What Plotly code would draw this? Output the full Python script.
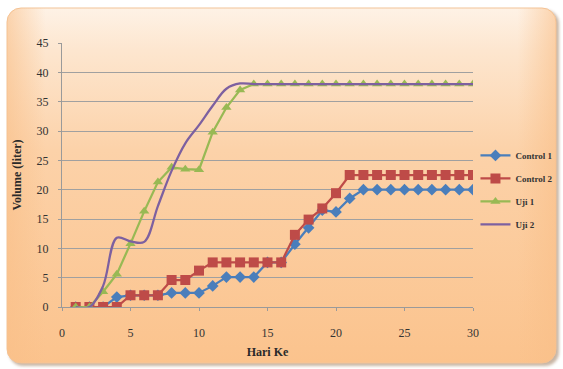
import base64
import plotly.graph_objects as go

# Daily cumulative volume (liter) per treatment
days = list(range(1, 31))
control_1 = [0, 0, 0, 1.7, 2, 2, 2, 2.4, 2.4, 2.4, 3.6, 5.1, 5.1, 5.1, 7.6,
             7.6, 10.7, 13.5, 16.5, 16.2, 18.5, 20, 20, 20, 20, 20, 20, 20, 20, 20]
control_2 = [0, 0, 0, 0, 2, 2, 2, 4.6, 4.6, 6.2, 7.6, 7.6, 7.6, 7.6, 7.6,
             7.6, 12.3, 14.9, 16.8, 19.4, 22.5, 22.5, 22.5, 22.5, 22.5, 22.5, 22.5, 22.5, 22.5, 22.5]
uji_1 = [0, 0, 2.6, 5.6, 10.8, 16.3, 21.3, 23.8, 23.5, 23.4, 29.8, 34, 37, 38, 38,
         38, 38, 38, 38, 38, 38, 38, 38, 38, 38, 38, 38, 38, 38, 38]
uji_2 = [0, 0, 3.6, 11.8, 11.2, 11.1, 17.2, 23.2, 27.9, 31, 34.3, 37.2, 38.1, 38, 38,
         38, 38, 38, 38, 38, 38, 38, 38, 38, 38, 38, 38, 38, 38, 38]

x_ticks = [0, 5, 10, 15, 20, 25, 30]
y_ticks = [0, 5, 10, 15, 20, 25, 30, 35, 40, 45]

W, H = 563, 369
ML, MR, MT, MB = 62, 90, 43, 62
SERIF = "Liberation Serif"

# Rounded chart frame with a warm gradient fill
svg = f'''<svg xmlns="http://www.w3.org/2000/svg" width="{W}" height="{H}" viewBox="0 0 {W} {H}">
<defs>
<linearGradient id="v" x1="0" y1="0" x2="0" y2="1">
<stop offset="0" stop-color="#fef2e6"/>
<stop offset="0.12" stop-color="#fde6cf"/>
<stop offset="0.40" stop-color="#fcd2a9"/>
<stop offset="1" stop-color="#fbc38d"/>
</linearGradient>
<linearGradient id="h" x1="0" y1="0" x2="1" y2="0">
<stop offset="0" stop-color="#f9bf88" stop-opacity="0.6"/>
<stop offset="0.07" stop-color="#f9bf88" stop-opacity="0"/>
<stop offset="0.93" stop-color="#f9bf88" stop-opacity="0"/>
<stop offset="1" stop-color="#f9bf88" stop-opacity="0.6"/>
</linearGradient>
<filter id="s" x="-5%" y="-5%" width="110%" height="110%"><feGaussianBlur stdDeviation="1.6"/></filter>
</defs>
<rect x="9" y="10" width="550" height="356" rx="14" fill="#9c7a5c" opacity="0.55" filter="url(#s)"/>
<rect x="7" y="8" width="549" height="355" rx="14" fill="url(#v)" stroke="#f2c49a" stroke-width="1"/>
<rect x="7" y="8" width="549" height="355" rx="14" fill="url(#h)"/>
</svg>'''
bg_src = "data:image/svg+xml;base64," + base64.b64encode(svg.encode()).decode()

pw = W - ML - MR
ph = H - MT - MB

fig = go.Figure()

fig.add_trace(go.Scatter(
    x=days, y=control_1, name="Control 1", mode="lines+markers",
    line=dict(color="#4a7ebb", width=2.25),
    marker=dict(symbol="diamond", size=9, color="#4a7ebb"),
    legendgroup="c1"))
fig.add_trace(go.Scatter(
    x=days, y=control_2, name="Control 2", mode="lines+markers",
    line=dict(color="#be4b48", width=2.25),
    marker=dict(symbol="square", size=10, color="#be4b48"),
    legendgroup="c2"))
fig.add_trace(go.Scatter(
    x=days, y=uji_1, name="Uji 1", mode="lines+markers",
    line=dict(color="#98b954", width=2.25),
    marker=dict(symbol="triangle-up", size=9, color="#98b954"),
    legendgroup="u1"))
fig.add_trace(go.Scatter(
    x=days, y=uji_2, name="Uji 2", mode="lines",
    line=dict(color="#7d60a0", width=2.25, shape="spline", smoothing=1),
    legendgroup="u2"))

fig.add_layout_image(dict(
    source=bg_src, xref="paper", yref="paper",
    x=-ML / pw, y=1 + MT / ph, sizex=W / pw, sizey=H / ph,
    xanchor="left", yanchor="top", sizing="stretch", layer="below"))

fig.update_layout(
    width=W, height=H,
    margin=dict(l=ML, r=MR, t=MT, b=MB, autoexpand=False),
    paper_bgcolor="white",
    plot_bgcolor="white",
    font=dict(family=SERIF, color="#404040", size=12),
    showlegend=True,
    legend=dict(
        x=1.006, y=0.629, xanchor="left", yanchor="top",
        bgcolor="rgba(0,0,0,0)", itemwidth=30, tracegroupgap=4,
        font=dict(family=SERIF, size=9, color="#333333", weight="bold")),
    xaxis=dict(
        range=[0, 30], tickvals=x_ticks, showgrid=False, zeroline=False,
        showline=True, linecolor="#9a9a9a", linewidth=1,
        ticks="outside", ticklen=3, tickcolor="#9a9a9a",
        ticklabelstandoff=12,
        tickfont=dict(family=SERIF, size=12, color="#333333"),
        title=dict(text="Hari Ke", standoff=8,
                   font=dict(family=SERIF, size=12, color="#2a2a2a", weight="bold"))),
    yaxis=dict(
        range=[0, 45], tickvals=y_ticks, showgrid=True, gridcolor="#a0a0a0",
        gridwidth=1, zeroline=False,
        showline=True, linecolor="#9a9a9a", linewidth=1,
        ticks="outside", ticklen=3, tickcolor="#9a9a9a",
        ticklabelstandoff=7,
        tickfont=dict(family=SERIF, size=12, color="#333333"),
        title=dict(text="Volume (liter)", standoff=12,
                   font=dict(family=SERIF, size=12, color="#2a2a2a", weight="bold"))),
)

fig.write_html("out.html")
